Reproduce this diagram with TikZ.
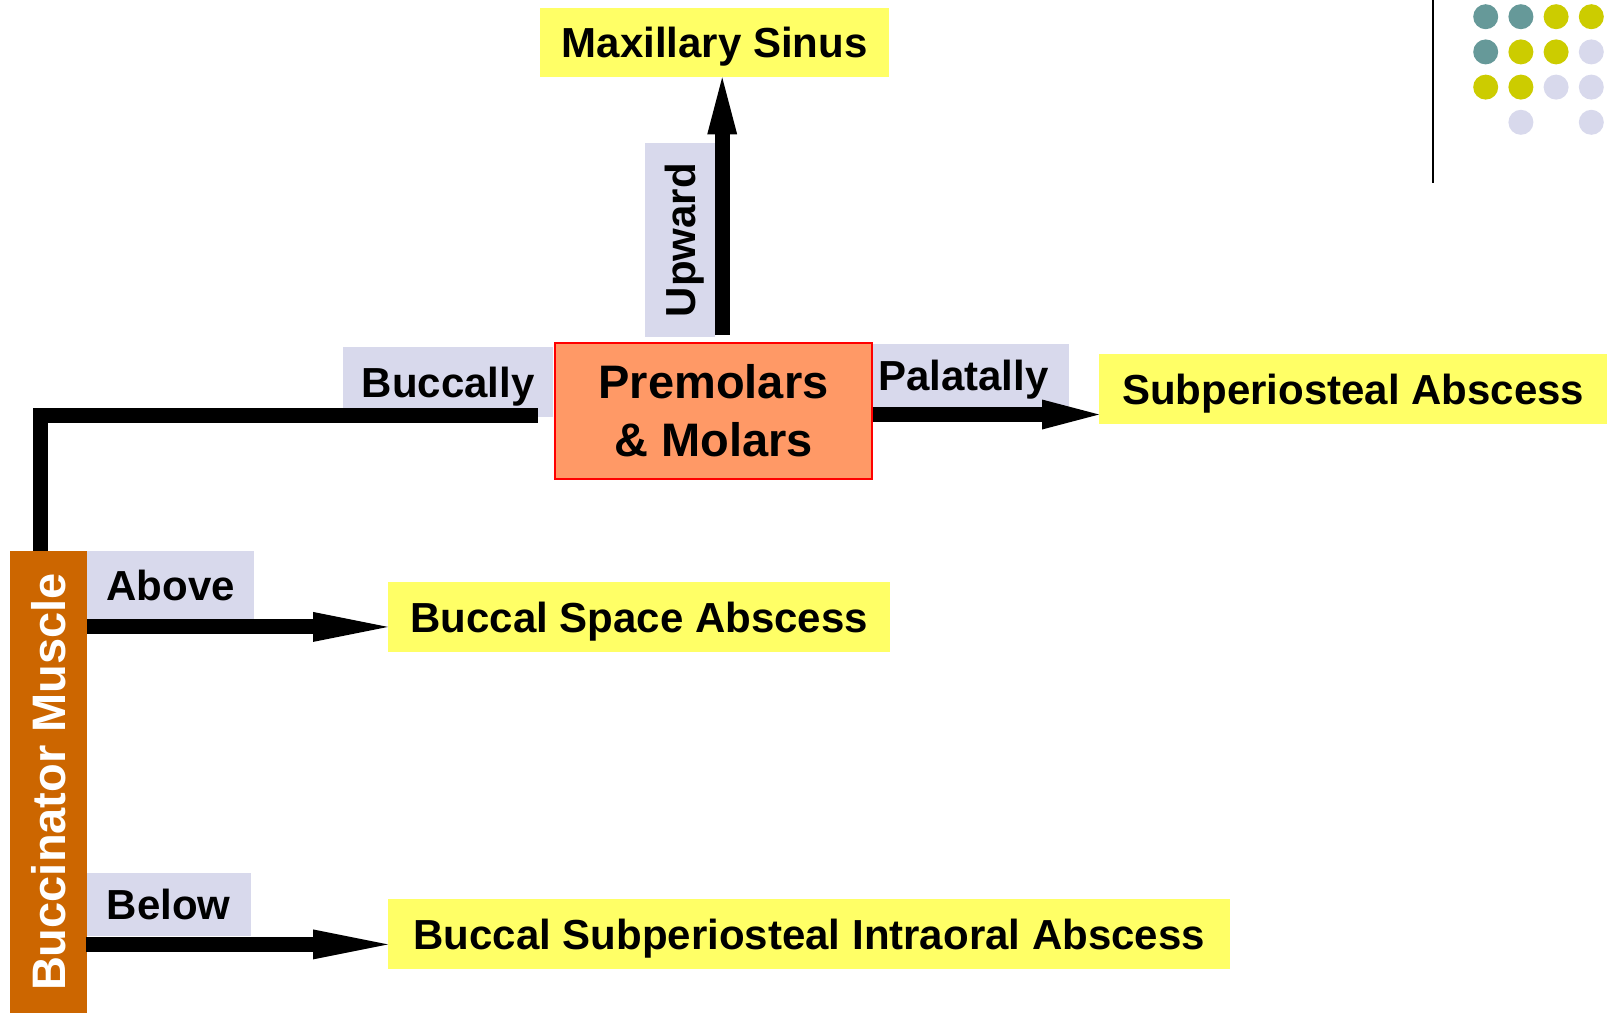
\documentclass[tikz,border=0pt]{standalone}
\usepackage{fontspec}
\setmainfont{Liberation Sans}
\usepackage{tikz}
\usetikzlibrary{arrows.meta, calc}

\definecolor{destyellow}{RGB}{255,255,102}
\definecolor{waylav}{RGB}{216,217,236}
\definecolor{toothorange}{RGB}{255,153,102}
\definecolor{muscleorange}{RGB}{204,102,0}
\definecolor{dotteal}{RGB}{102,153,153}
\definecolor{dotyellow}{RGB}{204,204,0}

\begin{document}
\begin{tikzpicture}[x=1pt,y=-1pt,
	dest/.style={fill=destyellow,inner sep=0pt,minimum height=70pt,anchor=north west,
		font=\fontsize{42}{50}\selectfont\bfseries,text height=30pt,text depth=0pt},
	way/.style={fill=waylav,inner sep=0pt,anchor=north west,
		font=\fontsize{42}{50}\selectfont\bfseries,text height=30pt,text depth=0pt},
	spread/.style={line width=15pt,-{Triangle[length=75pt,width=30pt,line width=0pt]}},
	shortspread/.style={line width=15pt,-{Triangle[length=57pt,width=30pt,line width=0pt]}}]
		% spread of infection: premolars & molars
		\useasboundingbox (0,0) rectangle (1614,1013);
		\draw[line width=2pt] (1433,0) -- (1433,183);
		\foreach \col/\row/\clr in {0/0/dotteal,1/0/dotteal,2/0/dotyellow,3/0/dotyellow,
			0/1/dotteal,1/1/dotyellow,2/1/dotyellow,3/1/waylav,
			0/2/dotyellow,1/2/dotyellow,2/2/waylav,3/2/waylav,1/3/waylav,3/3/waylav}{
			\fill[\clr] ({1485.7+35.2*\col},{16.7+35.2*\row}) circle (12.5);
		}
		\node[dest,minimum width=349pt,minimum height=69pt] (sinus) at (540,8) {Maxillary Sinus};
		\node[dest,minimum width=508pt] (subp) at (1099,354) {Subperiosteal Abscess};
		\node[dest,minimum width=502pt] (bspace) at (388,582) {Buccal Space Abscess};
		\node[dest,minimum width=842pt] (bsub) at (388,899) {Buccal Subperiosteal Intraoral Abscess};
		\node[way,minimum width=210pt,minimum height=70pt] (bucc) at (343,347) {Buccally};
		\node[way,minimum height=63pt,text width=186pt,inner xsep=5pt,align=left] (pal) at (873,344) {Palatally};
		\node[way,anchor=center,minimum width=194pt,minimum height=70pt,rotate=90] (up) at (680,240) {Upward};
		\node[way,minimum width=167pt,minimum height=68pt] (abv) at (87,551) {Above};
		\node[way,minimum width=165pt,minimum height=63pt] (blw) at (86,873) {Below};
		\node[draw=red,line width=2pt,fill=toothorange,minimum width=317pt,minimum height=136pt,
			align=center,font=\fontsize{47}{58}\selectfont\bfseries] (teeth) at (713.5,411) {Premolars\\\& Molars};
		\node[fill=muscleorange,text=white,inner sep=0pt,minimum width=462pt,minimum height=77pt,rotate=90,
			font=\fontsize{47}{56}\selectfont\bfseries,text height=34pt,text depth=0pt] (bm) at (48.5,782) {Buccinator Muscle};
		\coordinate (abvtail) at ($(abv.south west)+(0,7.5)$);
		\coordinate (blwtail) at ($(blw.south west)+(0,8)$);
		\coordinate (paltail) at ($(teeth.east)+(0,3.5)$);
		\coordinate (uptail) at ($(up.south |- teeth.north)+(7,-7)$);
		\draw[line width=15pt] ($(bm.east)+(-8,0)$) |- ($(teeth.west)+(-16,4)$);
		\draw[spread] (abvtail) -- (abvtail -| bspace.west);
		\draw[spread] (blwtail) -- (blwtail -| bsub.west);
		\draw[shortspread] (paltail) -- (paltail -| subp.west);
		\draw[shortspread] (uptail) -- (uptail |- sinus.south);
\end{tikzpicture}
\end{document}
